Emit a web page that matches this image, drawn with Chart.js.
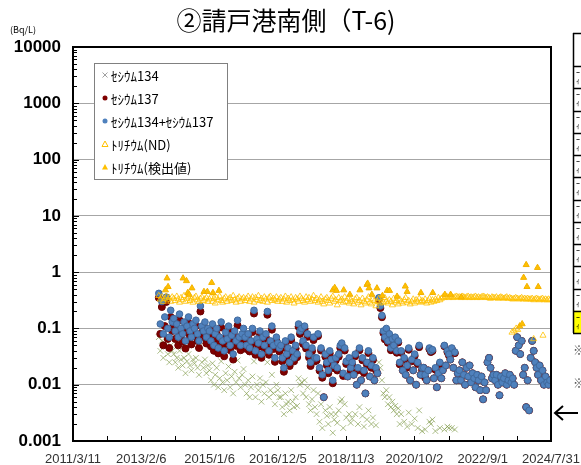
<!DOCTYPE html>
<html>
<head>
<meta charset="utf-8">
<script src="https://cdn.jsdelivr.net/npm/chart.js@4.4.1/dist/chart.umd.min.js"></script>
<style>
html, body { margin: 0; padding: 0; background: #fff; overflow: hidden; }
canvas { display: block; }
</style>
</head>
<body>
<canvas id="chart" width="581" height="465"></canvas>
<script>
// sampling dates (cesium + tritium band)
const csDates = [
  '2013/8/5','2013/8/20','2013/9/5','2013/9/20','2013/10/5','2013/10/20','2013/11/5','2013/11/20','2013/12/5','2013/12/20',
  '2014/1/5','2014/1/20','2014/2/5','2014/2/20','2014/3/5','2014/3/20','2014/4/5','2014/4/20','2014/5/5','2014/5/20','2014/6/5','2014/6/20','2014/7/5','2014/7/20','2014/8/5','2014/8/20','2014/9/5','2014/9/20','2014/10/5','2014/10/20','2014/11/5','2014/11/20','2014/12/5','2014/12/20',
  '2015/1/5','2015/1/20','2015/2/5','2015/2/20','2015/3/5','2015/3/20','2015/4/5','2015/4/20','2015/5/5','2015/5/20','2015/6/5','2015/6/20','2015/7/5','2015/7/20','2015/8/5','2015/8/20','2015/9/5','2015/9/20','2015/10/5','2015/10/20','2015/11/5','2015/11/20','2015/12/5','2015/12/20',
  '2016/1/5','2016/1/20','2016/2/5','2016/2/20','2016/3/5','2016/3/20','2016/4/5','2016/4/20','2016/5/5','2016/5/20','2016/6/5','2016/6/20','2016/7/5','2016/7/20','2016/8/5','2016/8/20','2016/9/5','2016/9/20','2016/10/5','2016/10/20','2016/11/5','2016/11/20','2016/12/5','2016/12/20',
  '2017/1/5','2017/1/20','2017/2/5','2017/2/20','2017/3/5','2017/3/20','2017/4/5','2017/4/20','2017/5/5','2017/5/20','2017/6/5','2017/6/20','2017/7/5','2017/7/20','2017/8/5','2017/8/20','2017/9/5','2017/9/20','2017/10/5','2017/10/20','2017/11/5','2017/11/20','2017/12/5','2017/12/20',
  '2018/1/5','2018/1/20','2018/2/5','2018/2/20','2018/3/5','2018/3/20','2018/4/5','2018/4/20','2018/5/5','2018/5/20','2018/6/5','2018/6/20','2018/7/5','2018/7/20','2018/8/5','2018/8/20','2018/9/5','2018/9/20','2018/10/5','2018/10/20','2018/11/5','2018/11/20','2018/12/5','2018/12/20',
  '2019/1/5','2019/1/20','2019/2/5','2019/2/20','2019/3/5','2019/3/20','2019/4/5','2019/4/20','2019/5/5','2019/5/20','2019/6/5','2019/6/20','2019/7/5','2019/7/20','2019/8/5','2019/8/20','2019/9/5','2019/9/20','2019/10/5','2019/10/20','2019/11/5','2019/11/20','2019/12/5','2019/12/20',
  '2020/1/5','2020/1/20','2020/2/5','2020/2/20','2020/3/5','2020/3/20','2020/4/5','2020/4/20','2020/5/5','2020/5/20','2020/6/5','2020/6/20','2020/7/5','2020/7/20','2020/8/5','2020/8/20','2020/9/5','2020/9/20','2020/10/5','2020/10/20','2020/11/5','2020/11/20','2020/12/5','2020/12/20',
  '2021/1/5','2021/1/20','2021/2/5','2021/2/20','2021/3/5','2021/3/20','2021/4/5','2021/4/20','2021/5/5','2021/5/20','2021/6/5','2021/6/20','2021/7/5','2021/7/20','2021/8/5','2021/8/20','2021/9/5','2021/9/20','2021/10/5','2021/10/20','2021/11/5','2021/11/20','2021/12/5','2021/12/20',
  '2022/1/5','2022/1/20','2022/2/5','2022/2/20','2022/3/5','2022/3/20','2022/4/5','2022/4/20','2022/5/5','2022/5/20','2022/6/5','2022/6/20','2022/7/5','2022/7/20','2022/8/5','2022/8/20','2022/9/5','2022/9/20','2022/10/5','2022/10/20','2022/11/5','2022/11/20','2022/12/5','2022/12/20',
  '2023/1/5','2023/1/20','2023/2/5','2023/2/20','2023/3/5','2023/3/20','2023/4/5','2023/4/20','2023/5/5','2023/5/20','2023/6/5','2023/6/20','2023/7/5','2023/7/20','2023/8/5','2023/8/20','2023/9/5','2023/9/20','2023/10/5','2023/10/20','2023/11/5','2023/11/20','2023/12/5','2023/12/20',
  '2024/1/5','2024/1/20','2024/2/5','2024/2/20','2024/3/5','2024/3/20','2024/4/5','2024/4/20','2024/5/5','2024/5/20','2024/6/5','2024/6/20','2024/7/5','2024/7/20'
];

// Cs-134 + Cs-137 (Bq/L)
const csTotal = [
  0.42, 0.12, 0.30, 0.08, 0.16, 0.36, 0.10, 0.07, 0.21, 0.13,
  0.15, 0.09, 0.12, 0.07, 0.18, 0.10, 0.08, 0.13, 0.06, 0.11, 0.16, 0.09, 0.07, 0.12, 0.10, 0.14, 0.08, 0.06, 0.25, 0.11, 0.09, 0.13, 0.07, 0.10,
  0.09, 0.06, 0.12, 0.05, 0.08, 0.10, 0.045, 0.07, 0.13, 0.06, 0.04, 0.085, 0.065, 0.11, 0.05, 0.075, 0.035, 0.09, 0.06, 0.14, 0.07, 0.05, 0.08, 0.10,
  0.07, 0.05, 0.08, 0.045, 0.06, 0.10, 0.21, 0.04, 0.065, 0.055, 0.09, 0.035, 0.07, 0.05, 0.08, 0.20, 0.04, 0.06, 0.11, 0.05, 0.03, 0.07, 0.055, 0.045,
  0.05, 0.03, 0.02, 0.06, 0.035, 0.045, 0.025, 0.07, 0.04, 0.03, 0.05, 0.035, 0.12, 0.09, 0.10, 0.06, 0.11, 0.05, 0.08, 0.035, 0.025, 0.045, 0.07, 0.03,
  0.03, 0.08, 0.02, 0.045, 0.015, 0.006, 0.035, 0.025, 0.018, 0.04, 0.028, 0.012, 0.022, 0.03, 0.02, 0.035, 0.05, 0.055, 0.016, 0.045, 0.026, 0.014, 0.03, 0.02,
  0.025, 0.015, 0.035, 0.01, 0.02, 0.045, 0.012, 0.03, 0.018, 0.007, 0.025, 0.04, 0.014, 0.022, 0.03, 0.012, 0.02, 0.016, 0.35, 0.25, 0.17, 0.09, 0.07, 0.10,
  0.06, 0.08, 0.045, 0.065, 0.05, 0.07, 0.04, 0.06, 0.025, 0.04, 0.018, 0.03, 0.015, 0.022, 0.045, 0.012, 0.028, 0.018, 0.035, 0.01, 0.025, 0.05, 0.015, 0.02,
  0.02, 0.015, 0.012, 0.018, 0.045, 0.04, 0.042, 0.013, 0.02, 0.009, 0.016, 0.025, 0.013, 0.018, 0.05, 0.022, 0.04, 0.035, 0.028, 0.045, 0.02, 0.038, 0.012, 0.016,
  0.018, 0.012, 0.025, 0.015, 0.01, 0.02, 0.014, 0.022, 0.011, 0.016, 0.013, 0.009, 0.015, 0.012, 0.008, 0.014, 0.0055, 0.011, 0.008, 0.025, 0.03, 0.02, 0.013, 0.015,
  0.012, 0.015, 0.01, 0.0065, 0.014, 0.011, 0.013, 0.016, 0.01, 0.012, 0.015, 0.011, 0.013, 0.01, 0.04, 0.07, 0.05, 0.035, 0.06, 0.015, 0.02, 0.004, 0.012, 0.0035,
  0.03, 0.06, 0.04, 0.025, 0.02, 0.015, 0.022, 0.012, 0.018, 0.01, 0.014, 0.011, 0.01, 0.012
];

// Cs-137 (Bq/L)
const cs137 = [
  0.35, 0.08, 0.24, 0.05, 0.11, 0.295, 0.065, 0.045, 0.16, 0.09,
  0.115, 0.065, 0.09, 0.05, 0.14, 0.072, 0.058, 0.10, 0.044, 0.084, 0.125, 0.068, 0.052, 0.092, 0.076, 0.11, 0.06, 0.045, 0.20, 0.085, 0.07, 0.102, 0.054, 0.078,
  0.072, 0.048, 0.096, 0.04, 0.065, 0.08, 0.036, 0.057, 0.104, 0.049, 0.032, 0.069, 0.053, 0.089, 0.041, 0.061, 0.028, 0.073, 0.049, 0.113, 0.057, 0.041, 0.065, 0.081,
  0.06, 0.043, 0.068, 0.039, 0.051, 0.086, 0.184, 0.034, 0.055, 0.047, 0.077, 0.03, 0.06, 0.043, 0.069, 0.175, 0.034, 0.052, 0.095, 0.043, 0.0255, 0.06, 0.047, 0.039,
  0.044, 0.026, 0.017, 0.053, 0.0305, 0.04, 0.0215, 0.062, 0.035, 0.026, 0.044, 0.0308, 0.107, 0.08, 0.089, 0.053, 0.098, 0.044, 0.071, 0.0305, 0.0215, 0.0395, 0.062, 0.026,
  0.027, 0.073, 0.0178, 0.0405, 0.0133, 0.006, 0.0315, 0.0222, 0.016, 0.036, 0.025, 0.0106, 0.0196, 0.027, 0.0179, 0.0315, 0.045, 0.0495, 0.0143, 0.0405, 0.0234, 0.014, 0.027, 0.0179,
  0.0225, 0.015, 0.032, 0.01, 0.018, 0.041, 0.012, 0.0272, 0.0162, 0.007, 0.0226, 0.0365, 0.014, 0.02, 0.0274, 0.012, 0.0181, 0.016, 0.325, 0.23, 0.158, 0.083, 0.064, 0.092,
  0.0555, 0.074, 0.041, 0.06, 0.0465, 0.0658, 0.037, 0.0562, 0.023, 0.037, 0.018, 0.0278, 0.015, 0.0202, 0.0418, 0.012, 0.026, 0.018, 0.0325, 0.01, 0.0233, 0.0465, 0.015, 0.0185,
  0.02, 0.0134, 0.012, 0.018, 0.0428, 0.038, 0.0396, 0.013, 0.0185, 0.009, 0.016, 0.0233, 0.013, 0.018, 0.0484, 0.022, 0.0382, 0.0333, 0.028, 0.0433, 0.02, 0.0364, 0.012, 0.016,
  0.018, 0.012, 0.025, 0.015, 0.01, 0.02, 0.014, 0.022, 0.011, 0.016, 0.013, 0.009, 0.015, 0.012, 0.008, 0.014, 0.0055, 0.011, 0.008, 0.025, 0.03, 0.02, 0.013, 0.015,
  0.012, 0.015, 0.01, 0.0065, 0.014, 0.011, 0.013, 0.016, 0.01, 0.012, 0.015, 0.011, 0.013, 0.01, 0.04, 0.07, 0.05, 0.035, 0.06, 0.015, 0.02, 0.004, 0.012, 0.0035,
  0.03, 0.06, 0.04, 0.025, 0.02, 0.015, 0.022, 0.012, 0.018, 0.01, 0.014, 0.011, 0.01, 0.012
];

// Cs-134 (Bq/L), null = not detected; not detected at all after 2021
const cs134 = [
  0.07, 0.04, 0.06, 0.03, 0.05, 0.065, 0.035, 0.025, 0.05, 0.04,
  0.035, 0.025, 0.03, 0.02, 0.04, 0.028, 0.022, 0.03, 0.016, 0.026, 0.035, 0.022, 0.018, 0.028, 0.024, 0.03, 0.02, 0.015, 0.05, 0.025, 0.02, 0.028, 0.016, 0.022,
  0.018, 0.012, 0.024, 0.01, 0.015, 0.02, 0.009, 0.013, 0.026, 0.011, 0.008, 0.016, 0.012, 0.021, 0.009, 0.014, 0.007, 0.017, 0.011, 0.027, 0.013, 0.009, 0.015, 0.019,
  0.01, 0.007, 0.012, 0.006, 0.009, 0.014, 0.026, 0.006, 0.01, 0.008, 0.013, 0.005, 0.01, 0.007, 0.011, 0.025, 0.006, 0.008, 0.015, 0.007, 0.0045, 0.01, 0.008, 0.006,
  0.006, 0.004, 0.003, 0.007, 0.0045, 0.005, 0.0035, 0.008, 0.005, 0.004, 0.006, 0.0042, 0.013, 0.01, 0.011, 0.007, 0.012, 0.006, 0.009, 0.0045, 0.0035, 0.0055, 0.008, 0.004,
  0.003, 0.007, 0.0022, 0.0045, 0.0017, null, 0.0035, 0.0028, 0.002, 0.004, 0.003, 0.0014, 0.0024, 0.003, 0.0021, 0.0035, 0.005, 0.0055, 0.0017, 0.0045, 0.0026, null, 0.003, 0.0021,
  0.0025, null, 0.003, null, 0.002, 0.004, null, 0.0028, 0.0018, null, 0.0024, 0.0035, null, 0.002, 0.0026, null, 0.0019, null, 0.025, 0.02, 0.012, 0.007, 0.006, 0.008,
  0.0045, 0.006, 0.004, 0.005, 0.0035, 0.0042, 0.003, 0.0038, 0.002, 0.003, null, 0.0022, null, 0.0018, 0.0032, null, 0.002, null, 0.0025, null, 0.0017, 0.0035, null, 0.0015,
  null, 0.0016, null, null, 0.0022, 0.002, 0.0024, null, 0.0015, null, null, 0.0017, null, null, 0.0016, null, 0.0018, 0.0017, null, 0.0017, null, 0.0016, null, null
];

// tritium below detection limit (Bq/L), same dates as csDates
const h3ND = [
  0.38, 0.33, 0.36, 0.30, 0.34, 0.37, 0.32, 0.35, 0.30, 0.36,
  0.34, 0.31, 0.37, 0.33, 0.29, 0.35, 0.32, 0.38, 0.30, 0.34, 0.36, 0.31, 0.33, 0.29, 0.35, 0.37, 0.32, 0.30, 0.34, 0.36, 0.31, 0.33, 0.35, 0.30,
  0.33, 0.36, 0.30, 0.34, 0.28, 0.35, 0.32, 0.37, 0.31, 0.29, 0.34, 0.36, 0.30, 0.33, 0.35, 0.31, 0.38, 0.32, 0.29, 0.34, 0.36, 0.30, 0.33, 0.35,
  0.31, 0.34, 0.37, 0.30, 0.33, 0.36, 0.29, 0.35, 0.32, 0.38, 0.31, 0.34, 0.30, 0.36, 0.33, 0.29, 0.35, 0.37, 0.31, 0.34, 0.32, 0.36, 0.30, 0.33,
  0.35, 0.30, 0.33, 0.37, 0.29, 0.34, 0.31, 0.36, 0.32, 0.28, 0.35, 0.33, 0.30, 0.37, 0.34, 0.31, 0.29, 0.36, 0.32, 0.35, 0.30, 0.33, 0.38, 0.31,
  0.34, 0.29, 0.32, 0.36, 0.30, 0.27, 0.33, 0.35, 0.31, 0.28, 0.34, 0.37, 0.30, 0.32, 0.26, 0.35, 0.31, 0.33, 0.29, 0.36, 0.30, 0.34, 0.28, 0.32,
  0.30, 0.27, 0.33, 0.35, 0.29, 0.31, 0.26, 0.34, 0.30, 0.28, 0.32, 0.36, 0.29, 0.27, 0.33, 0.31, 0.25, 0.30, 0.34, 0.28, 0.32, 0.29, 0.35, 0.30,
  0.28, 0.32, 0.30, 0.26, 0.34, 0.29, 0.31, 0.27, 0.33, 0.30, 0.28, 0.32, 0.35, 0.29, 0.31, 0.27, 0.30, 0.33, 0.28, 0.32, 0.30, 0.34, 0.29, 0.31,
  0.30, 0.33, 0.28, 0.31, 0.34, 0.29, 0.32, 0.30, 0.33, 0.31, 0.35, 0.32, 0.34, 0.36, 0.35, 0.37, 0.36, 0.35, 0.37, 0.36, 0.35, 0.36, 0.37, 0.36,
  0.36, 0.35, 0.37, 0.36, 0.35, 0.36, 0.37, 0.35, 0.36, 0.35, 0.36, 0.37, 0.35, 0.36, 0.35, 0.36, 0.37, 0.36, 0.35, 0.36, 0.35, 0.34, 0.36, 0.35,
  0.35, 0.36, 0.34, 0.35, 0.36, 0.35, 0.34, 0.35, 0.36, 0.34, 0.35, 0.34, 0.33, 0.34, 0.35, 0.34, 0.33, 0.34, 0.35, 0.33, 0.34, 0.33, 0.34, 0.33,
  0.33, 0.34, 0.32, 0.33, 0.34, 0.33, 0.32, 0.33, 0.34, 0.32, 0.33, 0.32, 0.33, 0.32
];

// tritium ND with the lower detection limit (2023-2024)
const h3NDLowDates = ['2023/6/28', '2023/7/20', '2023/8/10', '2023/8/25', '2024/2/5', '2024/5/10'];
const h3NDLowValues = [0.085, 0.09, 0.1, 0.095, 0.065, 0.075];

// tritium detected (Bq/L)
const h3DetDates = [
  '2013/10/12', '2013/10/28', '2013/11/8', '2014/4/10', '2014/5/15', '2014/5/28', '2014/6/12', '2014/7/10',
  '2014/11/10', '2014/12/15', '2015/1/28', '2015/2/10', '2015/4/12',
  '2018/6/20', '2018/7/10', '2018/7/28', '2018/10/10', '2018/12/12', '2019/3/25', '2019/6/5', '2019/6/12',
  '2019/6/26', '2019/7/25', '2019/9/15', '2019/11/10', '2019/12/28', '2020/1/22', '2020/4/8', '2020/7/1',
  '2020/7/20', '2020/12/8', '2021/4/8', '2021/8/10', '2021/10/8', '2022/1/25',
  '2023/9/15', '2023/10/10', '2023/10/25', '2023/11/20', '2023/11/28', '2024/3/15', '2024/3/22'
];
const h3DetValues = [
  0.48, 0.78, 0.55, 0.78, 0.7, 0.43, 0.4, 0.52,
  0.45, 0.45, 0.65, 0.43, 0.47,
  0.48, 0.53, 0.47, 0.48, 0.4, 0.48, 0.6, 0.63,
  0.52, 0.4, 0.52, 0.38, 0.47, 0.47, 0.37, 0.56,
  0.45, 0.43, 0.43, 0.4, 0.4, 0.36,
  0.11, 0.12, 0.8, 1.35, 0.55, 1.2, 0.55
];

const START = Date.UTC(2011, 2, 11);   // 2011/3/11
const X_MAX = 4891;                    // 2024/7/31
const X_STEPS = 14;

function toDay(s) {
  const [y, m, d] = s.split('/').map(Number);
  return (Date.UTC(y, m - 1, d) - START) / 86400000;
}
function fmtDay(v) {
  const d = new Date(START + Math.floor(v + 1e-6) * 86400000);
  return d.getUTCFullYear() + '/' + (d.getUTCMonth() + 1) + '/' + d.getUTCDate();
}
function points(dates, vals) {
  const out = [];
  dates.forEach((s, i) => {
    const v = vals[i];
    if (v != null) out.push({ x: toDay(s), y: v });
  });
  return out;
}
function isDecade(v) {
  const l = Math.log10(v);
  return Math.abs(l - Math.round(l)) < 1e-6;
}
function fmtNum(v) {
  const e = Math.round(Math.log10(v));
  return e >= 0 ? String(Math.round(v)) : v.toFixed(-e);
}

const GREEN = 'rgba(118,146,60,0.6)';
const RED = '#7F0000';
const BLUE = '#4F81BD';
const GOLD = '#FFC000';

// plot border, inner ticks, title, legend, side table and arrow
const decor = {
  id: 'decor',
  afterDraw(chart) {
    const { ctx, chartArea: a, scales: { x, y } } = chart;
    ctx.save();
    ctx.strokeStyle = '#000';
    ctx.lineWidth = 1;
    y.ticks.forEach(t => {
      const py = Math.round(y.getPixelForValue(t.value)) + 0.5;
      ctx.beginPath();
      ctx.moveTo(a.left, py);
      ctx.lineTo(a.left + (isDecade(t.value) ? 6 : 4), py);
      ctx.stroke();
    });
    x.ticks.forEach(t => {
      const px = Math.round(x.getPixelForValue(t.value)) + 0.5;
      ctx.beginPath();
      ctx.moveTo(px, a.bottom);
      ctx.lineTo(px, a.bottom - 5);
      ctx.stroke();
    });
    ctx.lineWidth = 2;
    ctx.strokeRect(a.left, a.top, a.right - a.left, a.bottom - a.top);

    // title and unit
    ctx.fillStyle = '#000';
    ctx.textAlign = 'center';
    ctx.textBaseline = 'middle';
    ctx.font = '25px "Noto Sans CJK JP"';
    ctx.fillText('②請戸港南側（T-6)', 286, 20);
    ctx.textAlign = 'left';
    ctx.font = '9px "Noto Sans CJK JP"';
    ctx.fillText('(Bq/L)', 10, 30);

    // legend box
    ctx.fillStyle = '#fff';
    ctx.fillRect(94, 63, 133, 116);
    ctx.strokeStyle = '#808080';
    ctx.lineWidth = 1;
    ctx.strokeRect(94.5, 63.5, 133, 116);
    const items = [
      ['ｾｼｳﾑ134', 'x'], ['ｾｼｳﾑ137', 'red'], ['ｾｼｳﾑ134+ｾｼｳﾑ137', 'blue'],
      ['ﾄﾘﾁｳﾑ(ND)', 'tri'], ['ﾄﾘﾁｳﾑ(検出値)', 'trif']
    ];
    ctx.font = '13px "Noto Sans CJK JP"';
    items.forEach(([label, kind], i) => {
      const ly = 75 + i * 23;
      const mx = 105;
      ctx.beginPath();
      if (kind === 'x') {
        ctx.strokeStyle = '#a0a0a0';
        ctx.moveTo(mx - 2.5, ly - 2.5); ctx.lineTo(mx + 2.5, ly + 2.5);
        ctx.moveTo(mx + 2.5, ly - 2.5); ctx.lineTo(mx - 2.5, ly + 2.5);
        ctx.stroke();
      } else if (kind === 'red' || kind === 'blue') {
        ctx.fillStyle = kind === 'red' ? RED : BLUE;
        ctx.arc(mx, ly, 2.5, 0, Math.PI * 2);
        ctx.fill();
      } else {
        ctx.moveTo(mx, ly - 3); ctx.lineTo(mx + 3, ly + 2.5); ctx.lineTo(mx - 3, ly + 2.5); ctx.closePath();
        if (kind === 'trif') { ctx.fillStyle = GOLD; ctx.fill(); }
        else { ctx.strokeStyle = GOLD; ctx.stroke(); }
      }
      ctx.fillStyle = '#000';
      ctx.fillText(label, 111, ly + 1);
    });

    // partial table at the right edge
    const top = 66, rowH = (333 - 66) / 12;
    ctx.fillStyle = '#FFFF00';
    ctx.fillRect(574, top + 11 * rowH, 7, rowH);
    ctx.strokeStyle = '#000';
    ctx.lineWidth = 1.5;
    ctx.beginPath();
    ctx.moveTo(573.5, 33); ctx.lineTo(573.5, 333);
    ctx.moveTo(573, 33.5); ctx.lineTo(581, 33.5);
    for (let i = 0; i <= 12; i++) {
      const ry = Math.round(top + i * rowH) + 0.5;
      ctx.moveTo(573, ry); ctx.lineTo(581, ry);
    }
    ctx.stroke();
    ctx.fillStyle = '#000';
    ctx.font = '8px "Noto Sans CJK JP"';
    for (let i = 0; i < 12; i++) {
      const ry = top + i * rowH;
      ctx.fillText('ｰ', 576, ry + 6);
      ctx.fillText('ｨ', 576, ry + 15);
    }
    ctx.font = '12px "Noto Sans CJK JP"';
    ctx.fillStyle = '#555';
    ctx.fillText('※', 573, 350);
    ctx.fillText('※', 573, 383);

    // arrow
    ctx.strokeStyle = '#000';
    ctx.lineWidth = 2;
    ctx.beginPath();
    ctx.moveTo(555, 413); ctx.lineTo(578, 413);
    ctx.moveTo(563, 406); ctx.lineTo(555, 413); ctx.lineTo(563, 420);
    ctx.stroke();
    ctx.restore();
  }
};

new Chart(document.getElementById('chart'), {
  type: 'scatter',
  data: {
    datasets: [
      { label: 'ﾄﾘﾁｳﾑ(検出値)', data: points(h3DetDates, h3DetValues), pointStyle: 'triangle', pointRadius: 3.5,
        backgroundColor: GOLD, borderColor: '#F2B100', borderWidth: 1, order: 1 },
      { label: 'ﾄﾘﾁｳﾑ(ND)', data: points(csDates, h3ND).concat(points(h3NDLowDates, h3NDLowValues)), pointStyle: 'triangle', pointRadius: 3.5,
        backgroundColor: 'rgba(255,255,255,0)', borderColor: 'rgba(255,192,0,0.8)', borderWidth: 1, order: 2 },
      { label: 'ｾｼｳﾑ134+ｾｼｳﾑ137', data: points(csDates, csTotal), pointStyle: 'circle', pointRadius: 3.3,
        backgroundColor: BLUE, borderColor: '#40699C', borderWidth: 1, order: 3 },
      { label: 'ｾｼｳﾑ137', data: points(csDates, cs137), pointStyle: 'circle', pointRadius: 3.5,
        backgroundColor: RED, borderColor: '#6A0000', borderWidth: 1, order: 4 },
      { label: 'ｾｼｳﾑ134', data: points(csDates, cs134), pointStyle: 'crossRot', pointRadius: 4,
        backgroundColor: GREEN, borderColor: GREEN, borderWidth: 1, order: 5 }
    ]
  },
  options: {
    responsive: false,
    animation: false,
    devicePixelRatio: 1,
    layout: { padding: { left: 0, right: 30, top: 47, bottom: 0 } },
    plugins: { legend: { display: false }, tooltip: { enabled: false } },
    scales: {
      x: {
        type: 'linear', min: 0, max: X_MAX,
        afterBuildTicks: s => {
          s.ticks = [];
          for (let i = 0; i <= X_STEPS; i++) s.ticks.push({ value: i * X_MAX / X_STEPS });
        },
        afterFit: s => { s.height = 24; s.paddingLeft = 0; s.paddingRight = 0; },
        ticks: {
          autoSkip: false, maxRotation: 0, padding: 11, color: '#333',
          font: { family: 'Liberation Sans', size: 13 },
          callback: (v, i) => (i % 2 === 0 ? fmtDay(v) : '')
        },
        grid: { display: false, drawTicks: false },
        border: { display: false }
      },
      y: {
        type: 'logarithmic', min: 0.001, max: 10000,
        afterBuildTicks: s => {
          const t = [];
          for (let e = -3; e <= 3; e++) {
            for (let m = 1; m <= 9; m++) t.push({ value: Number((m * Math.pow(10, e)).toPrecision(1)) });
          }
          t.push({ value: 10000 });
          s.ticks = t;
        },
        afterFit: s => { s.width = 73; s.paddingTop = 0; s.paddingBottom = 0; },
        ticks: {
          autoSkip: false, padding: 12, color: '#000',
          font: { family: 'Liberation Sans', size: 17, weight: 'bold' },
          callback: v => (isDecade(v) ? fmtNum(v) : '')
        },
        grid: {
          drawTicks: false, lineWidth: 1,
          color: c => (c.tick && isDecade(c.tick.value) ? '#a6a6a6' : 'rgba(0,0,0,0)')
        },
        border: { display: false }
      }
    }
  },
  plugins: [decor]
});
</script>
</body>
</html>
